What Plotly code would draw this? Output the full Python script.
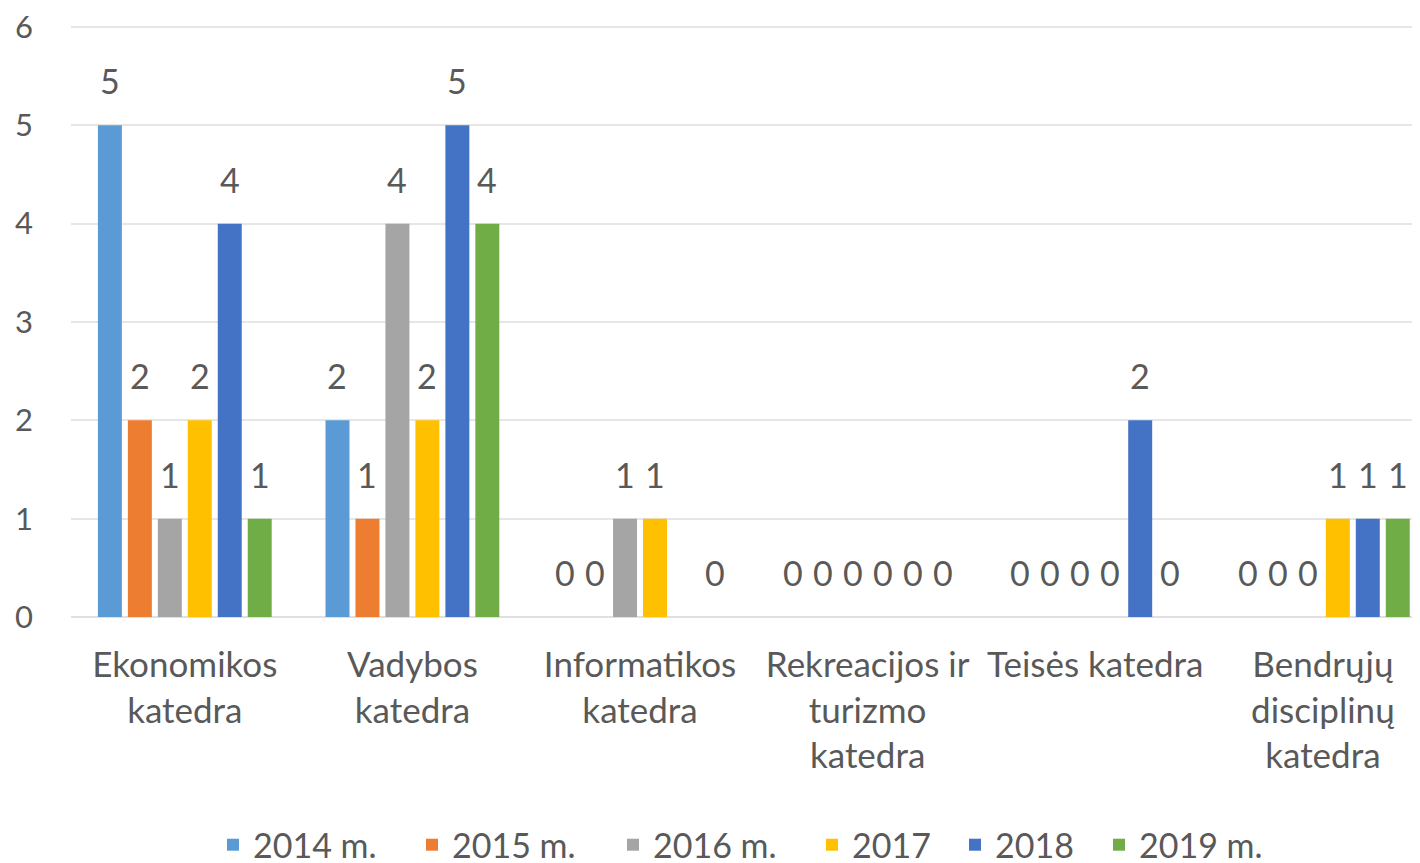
import plotly.graph_objects as go

categories = ["Ekonomikos<br>katedra", "Vadybos<br>katedra", "Informatikos<br>katedra",
              "Rekreacijos ir<br>turizmo<br>katedra", "Teisės katedra",
              "Bendrųjų<br>disciplinų<br>katedra"]
series_names = ["2014 m.", "2015 m.", "2016 m.", "2017", "2018", "2019 m."]
v2014 = [5, 2, 0, 0, 0, 0]
v2015 = [2, 1, 0, 0, 0, 0]
v2016 = [1, 4, 1, 0, 0, 0]
v2017 = [2, 2, 1, 0, 0, 1]
v2018 = [4, 5, None, 0, 2, 1]
v2019 = [1, 4, 0, 0, 0, 1]
values = [v2014, v2015, v2016, v2017, v2018, v2019]
colors = ["#5B9BD5", "#ED7D31", "#A5A5A5", "#FFC000", "#4472C4", "#70AD47"]

FONT = "Lato"
TXT = "#595959"

# layout geometry (page has an 8px body margin)
PLOT_LEFT_SCREEN = 71
PLOT_W = 1428 - PLOT_LEFT_SCREEN
legend_left_screen = [213, 412, 613, 812, 955, 1099]

fig = go.Figure()
legend_ids = ["legend", "legend2", "legend3", "legend4", "legend5", "legend6"]
for name, vals, col, lid in zip(series_names, values, colors, legend_ids):
    fig.add_trace(go.Bar(name=name, x=categories, y=vals, marker_color=col,
                         marker_line_width=0, legend=lid))

annotations = []
n = len(series_names)
slot = 30
for i, vals in enumerate(values):
    for cat, v in zip(categories, vals):
        if v is None:
            continue
        annotations.append(dict(x=cat, y=v, xref="x", yref="y", text=str(v),
                                showarrow=False, xshift=(i - (n - 1) / 2) * slot,
                                yshift=22, yanchor="bottom",
                                font=dict(family=FONT, size=34, color=TXT)))

legend_layouts = {}
for lid, lx in zip(legend_ids, legend_left_screen):
    legend_layouts[lid] = dict(
        orientation="h", x=(lx - PLOT_LEFT_SCREEN) / PLOT_W, xanchor="left",
        yref="container", y=0.03, yanchor="middle",
        font=dict(family=FONT, size=34, color=TXT), itemwidth=30,
        bgcolor="rgba(0,0,0,0)")

fig.update_layout(
    barmode="group", bargap=0.21, bargroupgap=0.2,
    width=1420, height=863,
    margin=dict(l=63, r=0, t=17, b=254),
    plot_bgcolor="white", paper_bgcolor="white",
    font=dict(family=FONT, color=TXT, size=34),
    annotations=annotations,
    showlegend=True,
    xaxis=dict(range=[-0.5, 5.462], showgrid=False, showline=False, ticks="",
               automargin=False, ticklabelstandoff=24,
               tickfont=dict(family=FONT, size=35, color=TXT)),
    yaxis=dict(range=[0, 6.02], tickmode="linear", tick0=0, dtick=1,
               showgrid=True, gridcolor="#E6E6E6", gridwidth=2,
               zeroline=True, zerolinecolor="#E0E0E0", zerolinewidth=2,
               showline=False, ticks="", ticklabelstandoff=37, automargin=False,
               ticklabeloverflow="allow",
               tickfont=dict(family=FONT, size=31, color=TXT)),
    **legend_layouts,
)

fig.write_html("out.html")
